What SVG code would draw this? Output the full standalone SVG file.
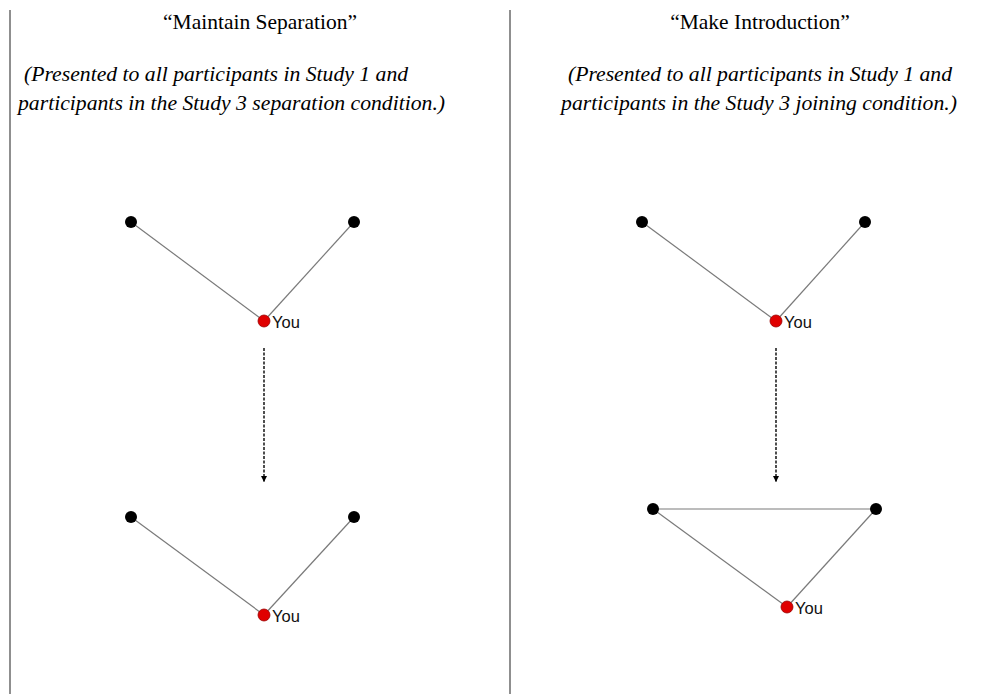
<svg xmlns="http://www.w3.org/2000/svg" width="996" height="694" viewBox="0 0 996 694">
<defs>
<style>
.title{font-family:"Liberation Serif",serif;font-size:21.5px;fill:#000}
.sub{font-family:"Liberation Serif",serif;font-size:21.7px;font-style:italic;fill:#000}
.edge{stroke:#7a7a7a;stroke-width:1.2;fill:none}
.flow{stroke:#222;stroke-width:1.6;stroke-dasharray:3,1.5;fill:none}
.blk{fill:#000}
.you{fill:#e00000;stroke:#900;stroke-width:0.8}
.lbl{font-family:"Liberation Sans",Arial,sans-serif;font-size:16.5px;fill:#111}
.div{stroke:#6a6a6a;stroke-width:1.5}
</style>
<marker id="ah" viewBox="0 0 10 10" refX="10" refY="5" markerWidth="6" markerHeight="6" orient="auto" markerUnits="userSpaceOnUse">
<path d="M0,0 L10,5 L0,10 z" fill="#000"/>
</marker>
</defs>
<rect width="996" height="694" fill="#fff"/>
<g id="dividers">
<line class="div" x1="10" y1="10" x2="10" y2="694"/>
<line class="div" x1="510" y1="10" x2="510" y2="694"/>
</g>
<g id="texts">
<text class="title" x="260" y="29" text-anchor="middle">“Maintain Separation”</text>
<text class="sub" x="24" y="81">(Presented to all participants in Study 1 and</text>
<text class="sub" x="18" y="110">participants in the Study 3 separation condition.)</text>
<text class="title" x="760" y="29" text-anchor="middle">“Make Introduction”</text>
<text class="sub" x="760" y="81" text-anchor="middle">(Presented to all participants in Study 1 and</text>
<text class="sub" x="759" y="110" text-anchor="middle">participants in the Study 3 joining condition.)</text>
</g>
<g id="connectors">
<line class="edge" x1="131" y1="222" x2="264" y2="321"/>
<line class="edge" x1="354" y1="222" x2="264" y2="321"/>
<line class="edge" x1="131" y1="517" x2="264" y2="615"/>
<line class="edge" x1="354" y1="517" x2="264" y2="615"/>
<line class="edge" x1="642" y1="222" x2="776" y2="321"/>
<line class="edge" x1="865" y1="222" x2="776" y2="321"/>
<line class="edge" x1="653" y1="509" x2="876" y2="509"/>
<line class="edge" x1="653" y1="509" x2="787" y2="607"/>
<line class="edge" x1="876" y1="509" x2="787" y2="607"/>
<line class="flow" x1="264" y1="348" x2="264" y2="482" marker-end="url(#ah)"/>
<line class="flow" x1="776" y1="348" x2="776" y2="482" marker-end="url(#ah)"/>
</g>
<g id="node-l1-a"><circle class="blk" cx="131" cy="222" r="6"/></g>
<g id="node-l1-b"><circle class="blk" cx="354" cy="222" r="6"/></g>
<g id="node-l1-you"><circle class="you" cx="264" cy="321" r="6"/><text class="lbl" x="272" y="328">You</text></g>
<g id="node-l2-a"><circle class="blk" cx="131" cy="517" r="6"/></g>
<g id="node-l2-b"><circle class="blk" cx="354" cy="517" r="6"/></g>
<g id="node-l2-you"><circle class="you" cx="264" cy="615" r="6"/><text class="lbl" x="272" y="622">You</text></g>
<g id="node-r1-a"><circle class="blk" cx="642" cy="222" r="6"/></g>
<g id="node-r1-b"><circle class="blk" cx="865" cy="222" r="6"/></g>
<g id="node-r1-you"><circle class="you" cx="776" cy="321" r="6"/><text class="lbl" x="784" y="328">You</text></g>
<g id="node-r2-a"><circle class="blk" cx="653" cy="509" r="6"/></g>
<g id="node-r2-b"><circle class="blk" cx="876" cy="509" r="6"/></g>
<g id="node-r2-you"><circle class="you" cx="787" cy="607" r="6"/><text class="lbl" x="795" y="614">You</text></g>
</svg>
